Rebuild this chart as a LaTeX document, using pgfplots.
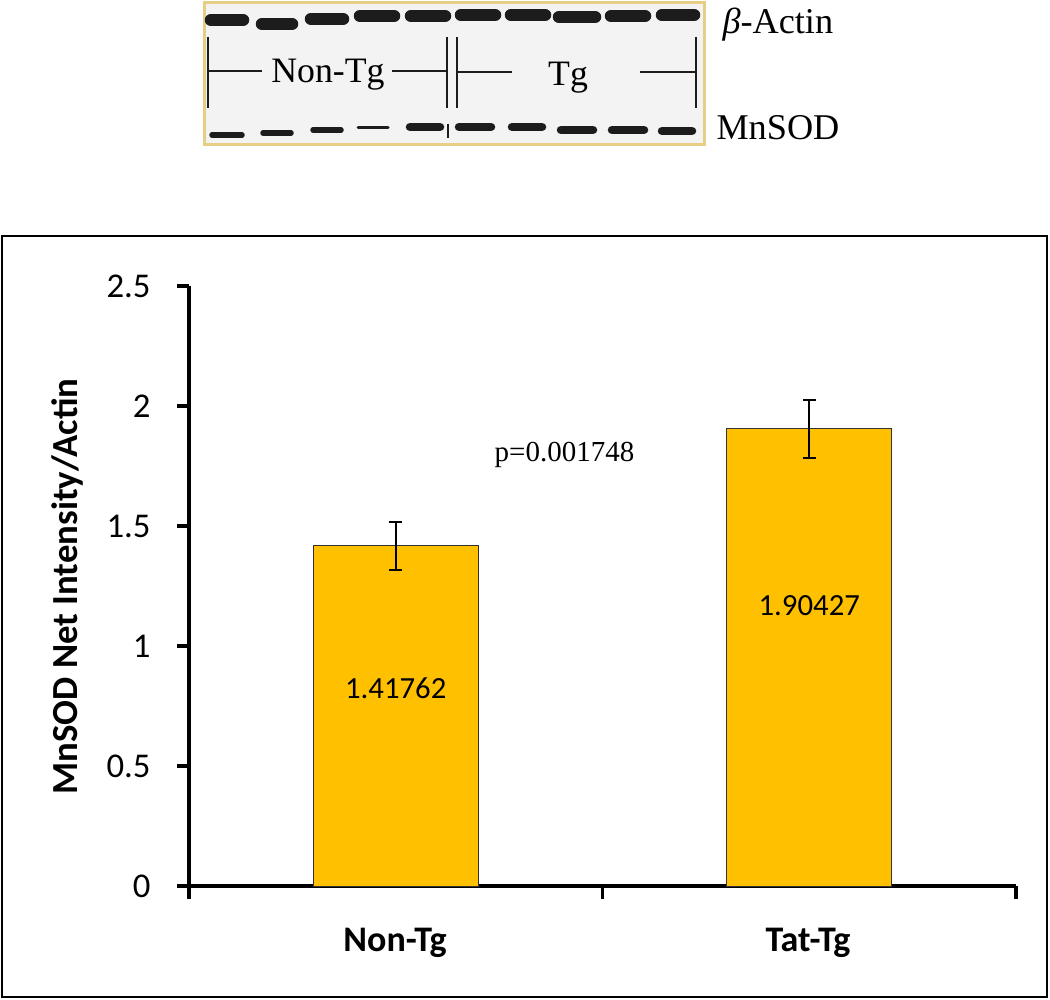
\documentclass[border=0pt]{standalone}
\usepackage{fontspec}
\setmainfont{Carlito}
\newfontfamily\serif{Liberation Serif}
\usepackage{pgfplots}
\pgfplotsset{compat=1.18}
\definecolor{bargold}{HTML}{FFC000}
\definecolor{blotborder}{HTML}{E6CF85}
\definecolor{band}{HTML}{1C1C1C}
\definecolor{blotbg}{HTML}{F3F3F3}
\pgfplotsset{blotband/.style={draw=none, mark=none, forget plot,
  error bars/.cd, x dir=both, x explicit, error mark=none,
  error bar style={draw=band, line width=#1, line cap=round}}}
\begin{document}
\begin{tikzpicture}[x=0.4pt,y=0.4pt]
\useasboundingbox (0,0) rectangle (1050,999);
% outer frame
\draw[line width=0.8pt] (2,2) rectangle (1047,763);
% blot background
\draw[fill=blotbg, draw=blotborder, line width=1.2pt] (204,854) rectangle (704,996);
\begin{axis}[
  at={(81.6pt,341.6pt)}, anchor=south west, scale only axis,
  width=200pt, height=56.8pt,
  xmin=204, xmax=704, ymin=0, ymax=142,
  hide axis, clip=false]
% beta-actin bands
\addplot[blotband=5pt]
  coordinates {(227,125) +- (16,0) (277,121) +- (15,0) (327,126) +- (16,0)
    (377,129) +- (17,0) (428,129) +- (17,0) (478,130) +- (17,0)
    (528,130) +- (17,0) (577,128) +- (18,0) (628,129) +- (17,0) (678,130) +- (16,0)};
% MnSOD bands, faint
\addplot[blotband=2.2pt]
  coordinates {(227,10) +- (15,0) (277,12) +- (14,0) (327,15) +- (14,0)};
\addplot[blotband=1.2pt]
  coordinates {(373,17) +- (15,0)};
% MnSOD bands, strong
\addplot[blotband=3.4pt]
  coordinates {(425,18) +- (15,0) (475,18) +- (16,0) (527,18) +- (15,0)
    (577,15) +- (16,0) (628,15) +- (16,0) (677,14) +- (15,0)};
\end{axis}
% blot annotation lines
\begin{scope}[line width=0.7pt, draw=band]
\draw (208,962) -- (208,891);
\draw (208,928) -- (262,928);
\draw (392,928) -- (447,928);
\draw (447,962) -- (447,891);
\draw (457,962) -- (457,891);
\draw[line width=1pt] (448,875) -- (448,861);
\draw (457,927) -- (512,927);
\draw (640,927) -- (696,927);
\draw (696,962) -- (696,891);
\end{scope}
\node[font=\serif\fontsize{14.3}{16}\selectfont, anchor=base, inner sep=0pt] at (328,916) {Non-Tg};
\node[font=\serif\fontsize{14.3}{16}\selectfont, anchor=base, inner sep=0pt] at (568,913) {Tg};
\node[font=\serif\fontsize{14.5}{16}\selectfont, anchor=base west, inner sep=0pt] at (722,965) {\textit{β}-Actin};
\node[font=\serif\fontsize{14.5}{16}\selectfont, anchor=base west, inner sep=0pt] at (716,859) {MnSOD};

% main chart
\begin{axis}[
  at={(75.6pt,45.2pt)}, anchor=south west, scale only axis,
  width=330.8pt, height=240pt,
  xmin=0, xmax=2, ymin=0, ymax=2.5,
  axis x line*=bottom, axis y line*=left,
  axis line style={line width=1.4pt},
  tick align=outside, major tick length=5pt,
  tick style={line width=1.4pt, black},
  xtick={0,1,2}, xticklabels={},
  ytick={0,0.5,1,1.5,2,2.5}, yticklabels={0,0.5,1,1.5,2,2.5},
  yticklabel style={font=\fontsize{13.9}{16}\selectfont, anchor=east, inner sep=0pt, xshift=-10.2pt},
  /pgf/number format/assume math mode=true,
  clip=false]
\addplot[ybar, bar width=66pt, fill=bargold, draw=black!80, line width=0.4pt,
  error bars/.cd, y dir=both, y explicit,
  error bar style={line width=0.8pt, black},
  error mark options={rotate=90, mark size=2.6pt, line width=0.8pt, black}]
  coordinates {(0.5,1.41762) +- (0,0.1) (1.5,1.90427) +- (0,0.12)};
\node[font=\fontsize{12.3}{14}\selectfont, inner sep=0pt] at (axis cs:0.5,0.825) {1.41762};
\node[font=\fontsize{12.3}{14}\selectfont, inner sep=0pt] at (axis cs:1.5,1.17) {1.90427};
\end{axis}
\node[font=\serif\fontsize{11.6}{14}\selectfont, anchor=base, inner sep=0pt] at (564.5,537) {p=0.001748};
\node[font=\bfseries\fontsize{14.7}{16}\selectfont, rotate=90, anchor=base, inner sep=0pt] at (77,412.5) {MnSOD Net Intensity/Actin};
\node[font=\bfseries\fontsize{14.4}{16}\selectfont, anchor=base, inner sep=0pt] at (395,48) {Non-Tg};
\node[font=\bfseries\fontsize{14.4}{16}\selectfont, anchor=base, inner sep=0pt] at (808,48) {Tat-Tg};
\end{tikzpicture}
\end{document}
